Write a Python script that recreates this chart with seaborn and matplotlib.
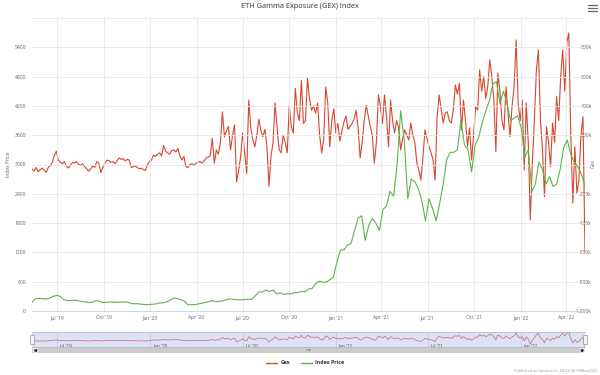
import pandas as pd
import numpy as np
import matplotlib
matplotlib.use("Agg")
import matplotlib.pyplot as plt
import matplotlib.dates as mdates
from matplotlib.patches import Rectangle
from matplotlib.lines import Line2D
import seaborn as sns

#%% data
# Gex in thousands, one value every 4 days starting 2019-05-12 (one line per month)
gex_k = [
    -30, -45, -20, -50, -35,                       # May 19
    -25, -40, -55, -20, -10, 15, 60, 90,           # Jun 19
    30, 15, 5, 20, -10, -25, -5, 15,               # Jul 19
    10, 20, 0, -5, 5, -15, -30,                    # Aug 19
    -45, -30, -10, -20, 20, 10, -55, -20,          # Sep 19
    10, 30, 25, 15, 20, 5, 25, 45,                 # Oct 19
    35, 40, 25, 35, 30, -20, -15,                  # Nov 19
    -10, -20, -30, -25, -35, -40, 0, 20,           # Dec 19
    30, 65, 55, 70, 80, 60, 130, 90,               # Jan 20
    80, 70, 95, 100, 85, 110, 60,                  # Feb 20
    30, 55, -15, -20, 0, 5, -5, 10,                # Mar 20
    15, 20, 10, 25, 45, 50, 60,                    # Apr 20
    180, 10, 100, 70, 150, 360, 190, 230,          # May 20
    260, 100, 200, 270, -120, -40, 50,             # Jun 20
    215, 80, -60, 440, 250, 170, 120, 200,         # Jul 20
    310, 230, 190, 240, 120, -150, 60, 150,        # Aug 20
    420, 250, 100, 80, 200, 150, 80,               # Sep 20
    405, 260, 215, 520, 350, 300, 575, 280,        # Oct 20
    300, 590, 450, 370, 400, 350, 420, 200,        # Nov 20
    80, 170, 530, 420, 120, 300, 380,              # Dec 20
    215, 280, 160, 230, 290, 330, 240, 260,        # Jan 21
    280, 310, 370, 250, 45, 150, 300,              # Feb 21
    405, 330, 260, 200, 10, 150, 475, 400,         # Mar 21
    280, 475, 330, 120, 440, 300, 215,             # Apr 21
    300, 250, 100, 180, 236, 200, 167, 283,        # May 21
    200, 150, 10, -40, -106, 50, 236, 180,         # Jun 21
    122, 80, 31, -106, 326, 475, 380,              # Jul 21
    283, 350, 360, 300, 283, 372, 543, 480,        # Aug 21
    555, 236, 440, 300, 122, 250, 31, 200,         # Sep 21
    395, 372, 645, 500, 600, 450, 531,             # Oct 21
    714, 600, 440, 87, 625, 500, 300, 236,         # Nov 21
    531, 350, 190, 400, 531, 850, 420, 300,        # Dec 21
    440, -38, 420, 150, -379, 10, 300,             # Jan 22
    645, 782, 304, 100, -220, 258, 150,            # Feb 22
    -15, 283, 150, 463, 300, 600, 782, 500,        # Mar 22
    830, 898, 190, -263, 122, -195, -106, 200,     # Apr 22
    326, -600,                                     # May 22
]

# ETH index price, weekly from 2019-05-12
index_price = [
    180, 250, 260,
    250, 245, 265, 300, 320,
    300, 230, 215, 215,
    220, 210, 195, 185,
    175, 180, 210, 200, 175,
    175, 185, 175, 180,
    185, 185, 180, 150,
    150, 148, 140, 130, 132,
    138, 145, 165, 168,
    185, 225, 265, 255,
    230, 200, 125, 130, 132,
    145, 160, 175, 195,
    210, 190, 205, 205, 240,
    245, 235, 230, 225,
    235, 240, 240, 310,
    390, 390, 430, 395, 430,
    350, 370, 340, 355,
    350, 375, 380, 400,
    395, 450, 460, 560, 610,
    590, 590, 640, 690,
    1000, 1250, 1250, 1350, 1380,
    1650, 1900, 1950, 1450,
    1750, 1900, 1800, 1650,
    2080, 2150, 2450, 2350,
    3000, 4100, 3500, 2300, 2700,
    2650, 2500, 2250, 1850,
    2300, 2100, 1850, 2200,
    2600, 3100, 3250, 3250, 3300,
    3900, 3400, 3300, 2850,
    3400, 3550, 3850, 4100, 4300,
    4650, 4700, 4250, 4500,
    4250, 3900, 3950, 4000,
    3750, 3150, 3300, 2450, 2600,
    3050, 2900, 2600, 2750,
    2550, 2600, 2900, 3350,
    3500, 3200, 3050, 2950,
    2800, 2550,
]

gex = pd.DataFrame({"date": pd.date_range("2019-05-12", periods=len(gex_k), freq="4D"),
                    "gex": gex_k})
price = pd.DataFrame({"date": pd.date_range("2019-05-12", periods=len(index_price), freq="7D"),
                      "price": index_price})

RED = "#d7462f"
GREEN = "#5bb548"
x0, x1 = pd.Timestamp("2019-05-12"), pd.Timestamp("2022-05-08")

#%% figure
sns.set_theme(style="white")
plt.rcParams['font.family'] = ['Open Sans', 'DejaVu Sans']
W, H = 600, 375
fig = plt.figure(figsize=(6, 3.75), dpi=100)


def box(l, t, r, b):
    return [l / W, 1 - b / H, (r - l) / W, (b - t) / H]


ax = fig.add_axes(box(32, 18, 585, 311))
ax2 = ax.twinx()
ax.set_zorder(3)
ax.patch.set_visible(False)

sns.lineplot(data=gex, x="date", y="gex", ax=ax2, color=RED, linewidth=0.8)
sns.lineplot(data=price, x="date", y="price", ax=ax, color=GREEN, linewidth=0.8)

ax.set_xlim(x0, x1)
ax.set_ylim(0, 6000)
ax2.set_ylim(-1000, 1000)
ax.set_yticks(range(0, 6001, 600))
ax.set_yticklabels([str(v) if v < 6000 else "" for v in range(0, 6001, 600)])
ax2_ticks = list(range(-1000, 1001, 200))
ax2.set_yticks(ax2_ticks)
ax2.set_yticklabels([f"{v:,}k" if v not in (0, 1000) else "" for v in ax2_ticks])

ax.xaxis.set_major_locator(mdates.MonthLocator(bymonth=[1, 4, 7, 10]))
ax.xaxis.set_major_formatter(mdates.DateFormatter("%b '%y"))
ax.grid(True, color="#e6e6e6", linewidth=0.6)
ax.set_axisbelow(True)
ax2.grid(False)
for a in (ax, ax2):
    a.set_xlabel("")
    a.set_ylabel("")
    for s in a.spines.values():
        s.set_visible(False)
ax.spines["bottom"].set_visible(True)
ax.spines["bottom"].set_color("#ccd6eb")
ax.spines["bottom"].set_linewidth(0.7)

ax.tick_params(axis="x", length=0, pad=3, labelsize=3.6, labelcolor="#666666")
ax.tick_params(axis="y", length=0, pad=4.3, labelsize=3.6, labelcolor="#666666")
ax2.tick_params(axis="y", length=0, pad=5, labelsize=3.6, labelcolor="#666666")
for t in ax2.get_yticklabels():
    t.set_horizontalalignment("right")

fig.text(300 / W, 1 - 7 / H, "ETH Gamma Exposure (GEX) Index", ha="center", va="center",
         fontsize=5.3, color="#333333")
fig.text(8 / W, 1 - 164 / H, "Index Price", rotation=90, ha="center", va="center",
         fontsize=3.6, color="#666666")
fig.text(593 / W, 1 - 163 / H, "Gex", rotation=90, ha="center", va="center",
         fontsize=3.6, color="#666666")

# menu icon
for yy in (5, 8, 11):
    fig.add_artist(Line2D([588 / W, 597 / W], [1 - yy / H] * 2, color="#666666", linewidth=0.9))

#%% navigator
nav = fig.add_axes(box(32, 332, 585, 347))
nav.set_facecolor("#dce2f2")
sns.lineplot(data=gex, x="date", y="gex", ax=nav, color="#c06a72", linewidth=0.5)
nav.set_xlim(x0, x1)
nav.set_ylim(-700, 950)
nav.set_xlabel("")
nav.set_ylabel("")
nav.set_yticks([])
nav_ticks = pd.date_range("2019-07-01", "2022-01-01", freq="6MS")
nav.set_xticks(nav_ticks)
nav.set_xticklabels([])
nav.tick_params(length=0)
nav.grid(True, axis="x", color="#bcc4dc", linewidth=0.5)
for d in nav_ticks:
    nav.text(d + pd.Timedelta(days=5), -560, d.strftime("%b '%y"), fontsize=3.3, color="#555555",
             ha="left", va="center")
for s in nav.spines.values():
    s.set_visible(False)
for yy in (332, 347):
    fig.add_artist(Line2D([32 / W, 585 / W], [1 - yy / H] * 2, color="#b0b8d0", linewidth=0.5))
for xx in (32, 585):
    fig.add_artist(Rectangle(((xx - 2) / W, 1 - 344 / H), 4 / W, 9 / H, facecolor="#f2f2f2",
                             edgecolor="#999999", linewidth=0.5))

#%% scrollbar
sb = fig.add_axes(box(32, 347, 585, 353))
sb.set_xlim(32, 585)
sb.set_ylim(0, 1)
sb.axis("off")
sb.add_patch(Rectangle((32, 0), 553, 1, facecolor="#cccccc", edgecolor="none"))
sb.add_patch(Rectangle((32, 0), 6, 1, facecolor="#e6e6e6", edgecolor="#cccccc", linewidth=0.4))
sb.add_patch(Rectangle((579, 0), 6, 1, facecolor="#e6e6e6", edgecolor="#cccccc", linewidth=0.4))
sb.plot([35], [0.5], marker="<", markersize=1.5, color="#333333")
sb.plot([582], [0.5], marker=">", markersize=1.5, color="#333333")
for xx in (307, 308.5, 310):
    sb.plot([xx, xx], [0.3, 0.7], color="#333333", linewidth=0.3)

#%% legend and credits
handles = [Line2D([], [], color=RED, linewidth=1), Line2D([], [], color=GREEN, linewidth=1)]
leg = fig.legend(handles, ["Gex", "Index Price"], loc="center", bbox_to_anchor=(305 / W, 1 - 363 / H),
                 ncol=2, frameon=False, fontsize=3.8, handlelength=2.2, columnspacing=2.0,
                 handletextpad=0.6)
for t in leg.get_texts():
    t.set_color("#333333")
    t.set_fontweight("bold")
fig.text(597 / W, 1 - 371 / H, "Published on laevitas.ch, 20:22:38 09May2022", ha="right",
         va="center", fontsize=2.8, color="#999999")

fig.savefig("out.png", dpi=100)
